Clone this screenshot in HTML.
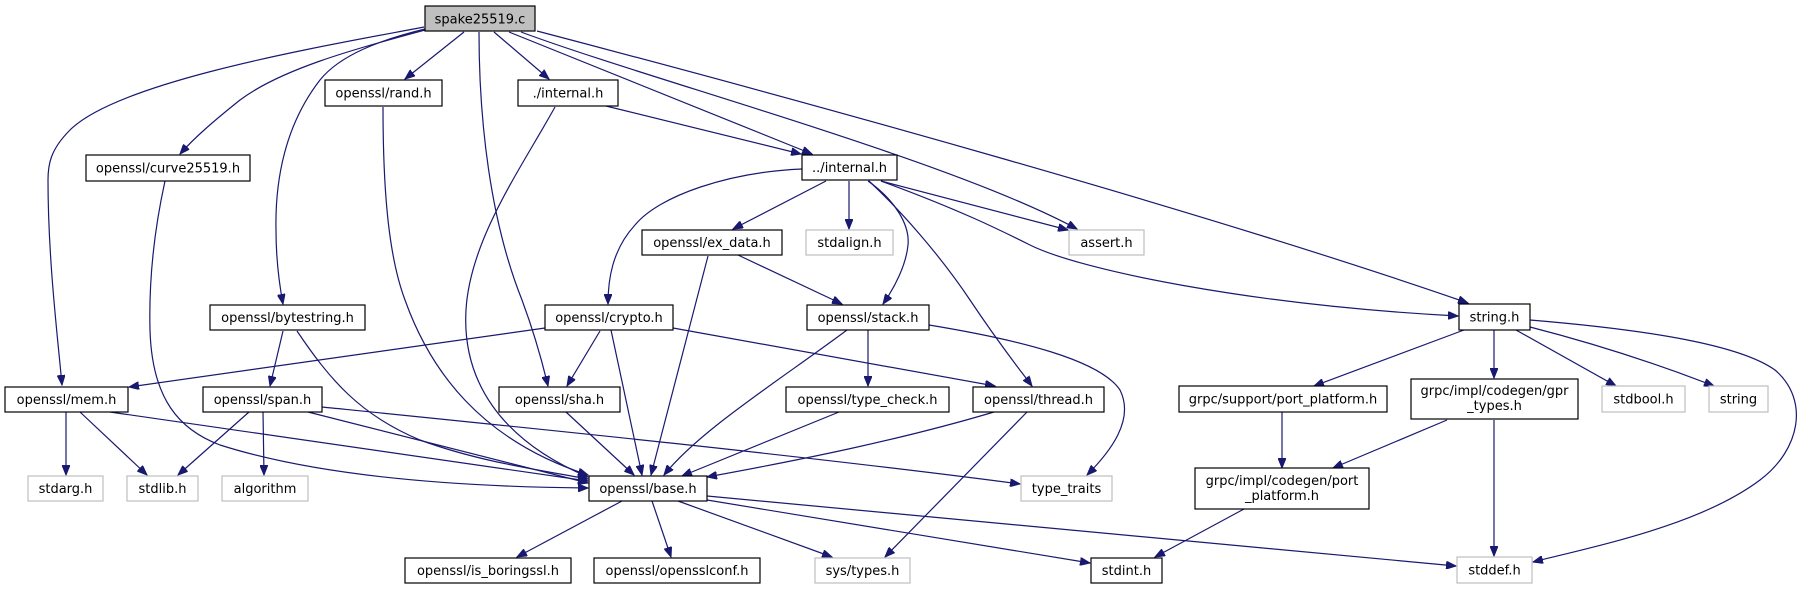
<!DOCTYPE html>
<html><head><meta charset="utf-8"><style>
html,body{margin:0;padding:0;background:#fff;}
svg{display:block;}
text{font-family:"DejaVu Sans","Liberation Sans",sans-serif;font-size:13px;fill:#000;}
.b{fill:#fff;stroke:#000;stroke-width:1.2;}
.g{fill:#fff;stroke:#bfbfbf;stroke-width:1.2;}
.e{fill:none;stroke:#191970;stroke-width:1.2;marker-end:url(#a);}
</style></head><body>
<svg width="1801" height="589" viewBox="0 0 1801 589" xmlns="http://www.w3.org/2000/svg">
<defs><marker id="a" markerUnits="userSpaceOnUse" markerWidth="11" markerHeight="8" refX="10" refY="4" orient="auto"><path d="M0,0 L10,4 L0,8 z" fill="#191970" stroke="#191970"/></marker></defs>

<!-- edges -->
<path class="e" d="M424,27 C330,45 120,80 70,130 C50,150 48,165 48,180 C48,260 58,340 62,385"/>
<path class="e" d="M425,30 C350,50 280,70 240,100 C215,120 195,137 180,154"/>
<path class="e" d="M425,29 C380,40 340,55 320,80 C285,125 275,180 276,230 C276,260 280,288 283,304"/>
<path class="e" d="M464,32 L405,79"/>
<path class="e" d="M479,32 C479,120 490,220 522,300 C535,335 543,365 548,386"/>
<path class="e" d="M494,32 L549,79"/>
<path class="e" d="M509,32 L812,154"/>
<path class="e" d="M521,32 C650,80 950,160 1077,229"/>
<path class="e" d="M537,31 C800,100 1200,210 1468,303"/>
<path class="e" d="M165,181 C152,240 149,290 150,330 C152,400 180,430 220,445 C330,480 480,487 588,488"/>
<path class="e" d="M383,107 C383,200 390,260 405,300 C430,370 480,440 588,475"/>
<path class="e" d="M555,107 C520,170 470,240 466,310 C462,380 500,440 588,477"/>
<path class="e" d="M606,106 L801,154"/>
<path class="e" d="M283,331 L270,386"/>
<path class="e" d="M297,331 C330,380 360,415 420,440 C480,462 540,470 588,479"/>
<path class="e" d="M545,328 L129,387"/>
<path class="e" d="M600,331 L567,386"/>
<path class="e" d="M611,330 L642,475"/>
<path class="e" d="M673,328 L995,386"/>
<path class="e" d="M708,256 L651,475"/>
<path class="e" d="M738,255 L842,304"/>
<path class="e" d="M802,169 C730,172 660,195 635,225 C612,250 608,280 608,304"/>
<path class="e" d="M826,181 L733,229"/>
<path class="e" d="M849,181 L849,229"/>
<path class="e" d="M868,181 C895,200 910,225 908,245 C906,265 895,287 883,304"/>
<path class="e" d="M869,181 C900,210 940,255 970,300 C1000,345 1020,370 1032,386"/>
<path class="e" d="M881,181 L1068,230"/>
<path class="e" d="M881,181 C960,210 1000,230 1030,245 C1080,270 1250,305 1458,316"/>
<path class="e" d="M847,330 C780,380 700,430 664,475"/>
<path class="e" d="M868,330 L868,386"/>
<path class="e" d="M929,325 C1020,340 1100,360 1120,390 C1135,420 1110,452 1087,475"/>
<path class="e" d="M66,412 L66,475"/>
<path class="e" d="M80,412 L147,475"/>
<path class="e" d="M110,412 L588,481"/>
<path class="e" d="M249,412 L178,475"/>
<path class="e" d="M263,412 L264,475"/>
<path class="e" d="M308,412 L588,483"/>
<path class="e" d="M322,407 C500,425 800,455 1020,484"/>
<path class="e" d="M566,412 L634,475"/>
<path class="e" d="M839,412 L682,476"/>
<path class="e" d="M994,412 C900,440 800,460 707,477"/>
<path class="e" d="M1027,412 L885,557"/>
<path class="e" d="M622,501 L517,557"/>
<path class="e" d="M652,501 L671,557"/>
<path class="e" d="M678,501 L832,557"/>
<path class="e" d="M707,500 L1090,563"/>
<path class="e" d="M707,496 C1000,525 1250,548 1456,566"/>
<path class="e" d="M1464,330 L1314,386"/>
<path class="e" d="M1494,330 L1494,378"/>
<path class="e" d="M1516,330 L1616,386"/>
<path class="e" d="M1530,327 C1600,345 1660,365 1714,386"/>
<path class="e" d="M1530,320 C1650,330 1740,345 1775,370 C1810,400 1800,450 1760,480 C1700,525 1600,545 1533,562"/>
<path class="e" d="M1282,412 L1282,468"/>
<path class="e" d="M1447,420 L1333,468"/>
<path class="e" d="M1494,420 L1494,556"/>
<path class="e" d="M1244,509 L1155,557"/>

<!-- nodes -->
<rect x="425" y="6" width="110" height="25" fill="#bfbfbf" stroke="#000" stroke-width="1.2"/>
<text x="480" y="23.5" text-anchor="middle">spake25519.c</text>

<rect class="b" x="325" y="80" width="117" height="26"/><text x="383.5" y="97.5" text-anchor="middle">openssl/rand.h</text>
<rect class="b" x="518" y="80" width="100" height="26"/><text x="568" y="97.5" text-anchor="middle">./internal.h</text>
<rect class="b" x="86" y="155" width="164" height="26"/><text x="168" y="172.5" text-anchor="middle">openssl/curve25519.h</text>
<rect class="b" x="802" y="155" width="95" height="25"/><text x="849.5" y="172" text-anchor="middle">../internal.h</text>

<rect class="b" x="642" y="230" width="140" height="25"/><text x="712" y="247" text-anchor="middle">openssl/ex_data.h</text>
<rect class="g" x="806" y="230" width="87" height="25"/><text x="849.5" y="247" text-anchor="middle">stdalign.h</text>
<rect class="g" x="1069" y="230" width="75" height="25"/><text x="1106.5" y="247" text-anchor="middle">assert.h</text>

<rect class="b" x="210" y="305" width="155" height="25"/><text x="287.5" y="322" text-anchor="middle">openssl/bytestring.h</text>
<rect class="b" x="545" y="305" width="128" height="25"/><text x="609" y="322" text-anchor="middle">openssl/crypto.h</text>
<rect class="b" x="807" y="305" width="122" height="25"/><text x="868" y="322" text-anchor="middle">openssl/stack.h</text>
<rect class="b" x="1459" y="304" width="71" height="26"/><text x="1494.5" y="321.5" text-anchor="middle">string.h</text>

<rect class="b" x="5" y="387" width="123" height="25"/><text x="66.5" y="404" text-anchor="middle">openssl/mem.h</text>
<rect class="b" x="203" y="387" width="119" height="25"/><text x="262.5" y="404" text-anchor="middle">openssl/span.h</text>
<rect class="b" x="499" y="387" width="121" height="25"/><text x="559.5" y="404" text-anchor="middle">openssl/sha.h</text>
<rect class="b" x="786" y="387" width="163" height="25"/><text x="867.5" y="404" text-anchor="middle">openssl/type_check.h</text>
<rect class="b" x="973" y="387" width="131" height="25"/><text x="1038.5" y="404" text-anchor="middle">openssl/thread.h</text>
<rect class="b" x="1179" y="386" width="208" height="26"/><text x="1283" y="403.5" text-anchor="middle">grpc/support/port_platform.h</text>
<rect class="b" x="1411" y="379" width="167" height="40"/><text x="1494.5" y="395" text-anchor="middle">grpc/impl/codegen/gpr</text><text x="1494.5" y="410" text-anchor="middle">_types.h</text>
<rect class="g" x="1602" y="386" width="83" height="26"/><text x="1643.5" y="403.5" text-anchor="middle">stdbool.h</text>
<rect class="g" x="1709" y="386" width="59" height="26"/><text x="1738.5" y="403.5" text-anchor="middle">string</text>

<rect class="g" x="28" y="476" width="75" height="25"/><text x="65.5" y="493" text-anchor="middle">stdarg.h</text>
<rect class="g" x="127" y="476" width="71" height="25"/><text x="162.5" y="493" text-anchor="middle">stdlib.h</text>
<rect class="g" x="222" y="476" width="86" height="25"/><text x="265" y="493" text-anchor="middle">algorithm</text>
<rect class="b" x="589" y="476" width="118" height="25"/><text x="648" y="493" text-anchor="middle">openssl/base.h</text>
<rect class="g" x="1021" y="476" width="91" height="25"/><text x="1066.5" y="493" text-anchor="middle">type_traits</text>
<rect class="b" x="1195" y="468" width="174" height="41"/><text x="1282" y="485" text-anchor="middle">grpc/impl/codegen/port</text><text x="1282" y="500" text-anchor="middle">_platform.h</text>

<rect class="b" x="405" y="558" width="166" height="25"/><text x="488" y="575" text-anchor="middle">openssl/is_boringssl.h</text>
<rect class="b" x="594" y="558" width="166" height="25"/><text x="677" y="575" text-anchor="middle">openssl/opensslconf.h</text>
<rect class="g" x="815" y="558" width="95" height="25"/><text x="862.5" y="575" text-anchor="middle">sys/types.h</text>
<rect class="b" x="1091" y="558" width="71" height="25"/><text x="1126.5" y="575" text-anchor="middle">stdint.h</text>
<rect class="g" x="1457" y="557" width="75" height="26"/><text x="1494.5" y="574.5" text-anchor="middle">stddef.h</text>
</svg>
</body></html>
